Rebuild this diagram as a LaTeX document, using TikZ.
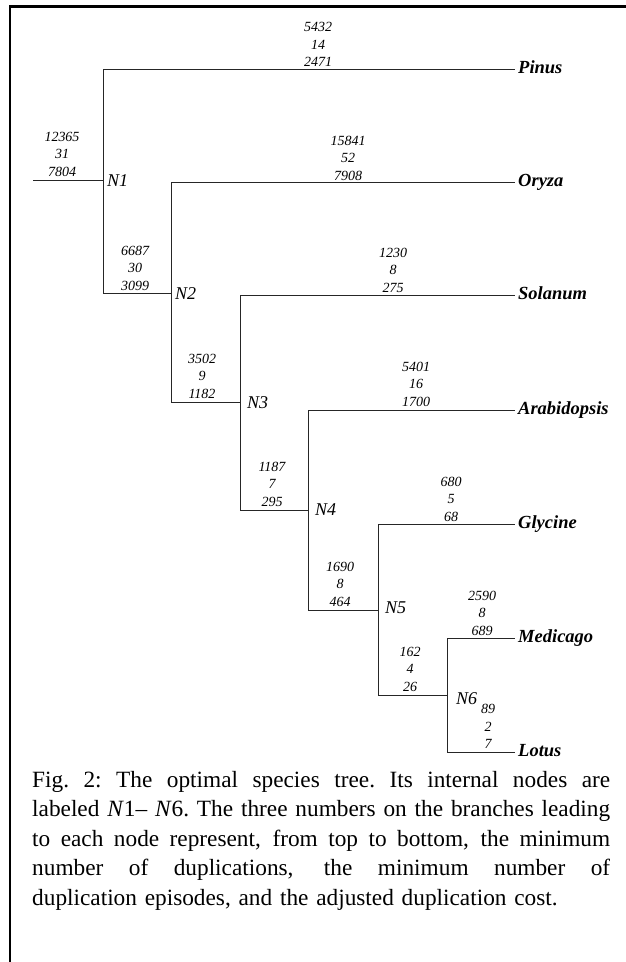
\documentclass[tikz,border=0pt]{standalone}
\usepackage{fontspec}
\setmainfont{Liberation Serif}
\usetikzlibrary{calc}
\newcommand\capline[1]{\hbox to 578pt{\spaceskip=.25em plus 1fil\xspaceskip=.25em plus 1fil\relax #1}}
\begin{document}
\begin{tikzpicture}[x=1pt,y=-1pt,
  branch/.style={line width=1pt, draw=black!85},
  framestyle/.style={line width=2.6pt, line join=miter},
  nums/.style={font=\fontsize{14}{17.4}\selectfont\itshape, align=center, anchor=south, inner sep=0pt},
  species/.style={font=\fontsize{18.5}{20}\selectfont\bfseries\itshape, anchor=base west, inner sep=0pt},
  nlabel/.style={font=\fontsize{18}{20}\selectfont\itshape, anchor=base west, inner sep=0pt},
  captionstyle/.style={font=\fontsize{23.3}{29.6}\selectfont, text width=578pt, align=left, anchor=base west, inner sep=0pt}
]
\useasboundingbox (0,0) rectangle (626,962);
\fill[white] (0,0) rectangle (626,962);
% frame
\draw[framestyle] (627,6.7) -- (10,6.7) -- (10,963);
% tree coordinates
\coordinate (r0) at (33,180);
\coordinate (n1) at (103,180);
\coordinate (n2) at (171,293);
\coordinate (n3) at (240,402);
\coordinate (n4) at (308,510);
\coordinate (n5) at (378,610);
\coordinate (n6) at (447,695);
\coordinate (lPinus) at (515,69);
\coordinate (lOryza) at (515,182);
\coordinate (lSolanum) at (515,295);
\coordinate (lArabidopsis) at (515,410);
\coordinate (lGlycine) at (515,524);
\coordinate (lMedicago) at (515,638);
\coordinate (lLotus) at (515,752);
% branches
\draw[branch] (r0) -- (n1);
\draw[branch] (n1) |- (lPinus);
\draw[branch] (n1) |- (n2);
\draw[branch] (n2) |- (lOryza);
\draw[branch] (n2) |- (n3);
\draw[branch] (n3) |- (lSolanum);
\draw[branch] (n3) |- (n4);
\draw[branch] (n4) |- (lArabidopsis);
\draw[branch] (n4) |- (n5);
\draw[branch] (n5) |- (lGlycine);
\draw[branch] (n5) |- (n6);
\draw[branch] (n6) |- (lMedicago);
\draw[branch] (n6) |- (lLotus);
% species labels
\node[species] (Pinus) at ($(lPinus)+(3,4)$) {Pinus};
\node[species] (Oryza) at ($(lOryza)+(3,4)$) {Oryza};
\node[species] (Solanum) at ($(lSolanum)+(3,4)$) {Solanum};
\node[species] (Arabidopsis) at ($(lArabidopsis)+(3,4)$) {Arabidopsis};
\node[species] (Glycine) at ($(lGlycine)+(3,4)$) {Glycine};
\node[species] (Medicago) at ($(lMedicago)+(3,4)$) {Medicago};
\node[species] (Lotus) at ($(lLotus)+(3,4)$) {Lotus};
% internal node labels
\node[nlabel] (N1) at ($(n1)+(4,6)$) {N1};
\node[nlabel] (N2) at ($(n2)+(4,6)$) {N2};
\node[nlabel] (N3) at ($(n3)+(7,6)$) {N3};
\node[nlabel] (N4) at ($(n4)+(7,5)$) {N4};
\node[nlabel] (N5) at ($(n5)+(7,3)$) {N5};
\node[nlabel] (N6) at ($(n6)+(9,9)$) {N6};
% branch numbers
\node[nums] (bRoot) at (62,176.7) {12365\\31\\7804};
\node[nums] (bPinus) at (318,66.7) {5432\\14\\2471};
\node[nums] (bOryza) at (348,180.7) {15841\\52\\7908};
\node[nums] (bSolanum) at (393,292.7) {1230\\8\\275};
\node[nums] (bN2) at (135,290.7) {6687\\30\\3099};
\node[nums] (bN3) at (202,398.7) {3502\\9\\1182};
\node[nums] (bN4) at (272,506.7) {1187\\7\\295};
\node[nums] (bArabidopsis) at (416,406.7) {5401\\16\\1700};
\node[nums] (bGlycine) at (451,521.7) {680\\5\\68};
\node[nums] (bN5) at (340,606.7) {1690\\8\\464};
\node[nums] (bMedicago) at (482,635.7) {2590\\8\\689};
\node[nums] (bN6) at (410,691.7) {162\\4\\26};
\node[nums] (bLotus) at (488,748.7) {89\\2\\7};
% caption
\node[captionstyle] (caption) at (32,787) {%
\capline{Fig. 2: The optimal species tree. Its internal nodes are}
\capline{labeled \textit{N}1\textendash{} \textit{N}6. The three numbers on the branches leading}
\capline{to each node represent, from top to bottom, the minimum}
\capline{number of duplications, the minimum number of}
duplication episodes, and the adjusted duplication cost.};
\end{tikzpicture}
\end{document}
